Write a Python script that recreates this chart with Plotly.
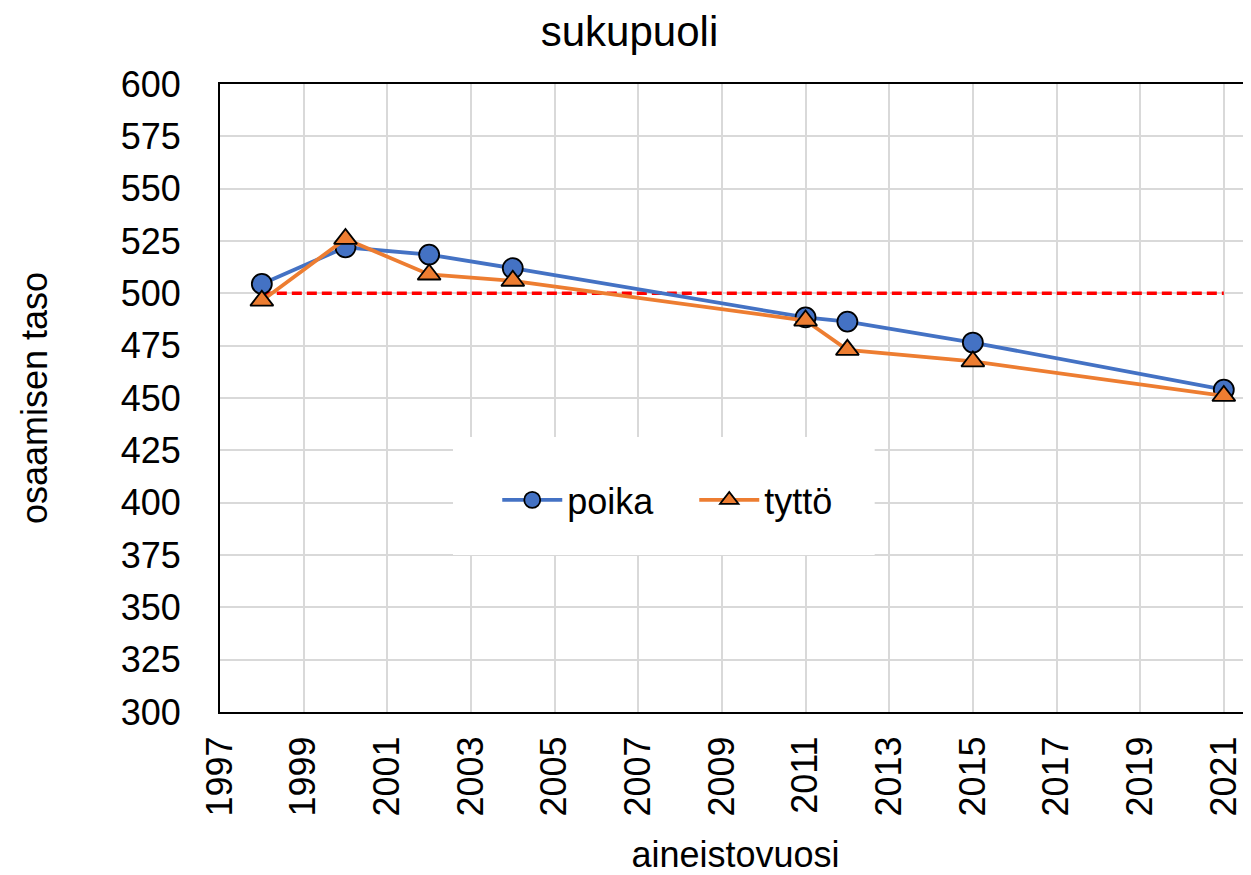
import plotly.graph_objects as go

years = [1998, 2000, 2002, 2004, 2011, 2012, 2015, 2021]
poika = [504.5, 522, 518.5, 512, 488.5, 486.5, 476.5, 454]
tytto = [496.5, 526, 509, 506, 487, 473, 467.5, 451]
ref_x = [1998, 2021]
ref_y = [500, 500]
x_ticks = list(range(1997, 2022, 2))
y_ticks = list(range(300, 601, 25))

FONT = "Liberation Sans, Arial, sans-serif"

fig = go.Figure()
fig.add_trace(go.Scatter(
    x=ref_x, y=ref_y, mode="lines", showlegend=False,
    line=dict(color="#FF0000", width=3.5, dash="10px,5px"), hoverinfo="skip"))
fig.add_trace(go.Scatter(
    x=years, y=poika, mode="lines+markers", name="poika",
    line=dict(color="#4472C4", width=3.8),
    marker=dict(symbol="circle", size=20, color="#4472C4",
                line=dict(color="black", width=1.8))))
fig.add_trace(go.Scatter(
    x=years, y=tytto, mode="lines+markers", name="tyttö",
    line=dict(color="#ED7D31", width=3.8),
    marker=dict(symbol="triangle-up", size=20, color="#ED7D31",
                line=dict(color="black", width=1.8))))

# white legend backdrop (covers gridlines like the original legend box)
fig.add_shape(type="rect", xref="paper", yref="paper",
              x0=0.226, x1=0.635, y0=0.25, y1=0.438,
              fillcolor="white", line=dict(width=0), layer="above")

fig.update_layout(
    width=1243, height=867,
    margin=dict(l=212, r=0, t=76, b=163),
    paper_bgcolor="white", plot_bgcolor="white",
    font=dict(family=FONT, size=36, color="black"),
    title=dict(text="sukupuoli", x=0.5, xanchor="center", y=0.973, yanchor="middle",
               font=dict(family=FONT, size=42, color="black")),
    legend=dict(orientation="h", x=0.46, y=0.3376, xanchor="center", yanchor="middle",
                bgcolor="rgba(255,255,255,0)", font=dict(family=FONT, size=36),
                itemwidth=60, borderwidth=0,
                entrywidth=122),
    showlegend=True,
)
fig.update_xaxes(
    range=[1997, 2021.65], tickvals=x_ticks, ticktext=[str(v) for v in x_ticks],
    tickangle=-90, showgrid=True, gridcolor="#D9D9D9", gridwidth=1.5,
    showline=True, linecolor="black", linewidth=2, mirror=True,
    ticks="", zeroline=False, ticklabelstandoff=8,
    title=dict(text="aineistovuosi", font=dict(family=FONT, size=36), standoff=32),
    tickfont=dict(family=FONT, size=36),
)
fig.update_yaxes(
    range=[300, 600], tickvals=y_ticks, showgrid=True, gridcolor="#D9D9D9", gridwidth=1.5,
    showline=True, linecolor="black", linewidth=2,
    ticks="", zeroline=False, ticklabelstandoff=30,
    title=dict(text="osaamisen taso", font=dict(family=FONT, size=36), standoff=62),
    tickfont=dict(family=FONT, size=36),
)
fig.write_html("out.html")
